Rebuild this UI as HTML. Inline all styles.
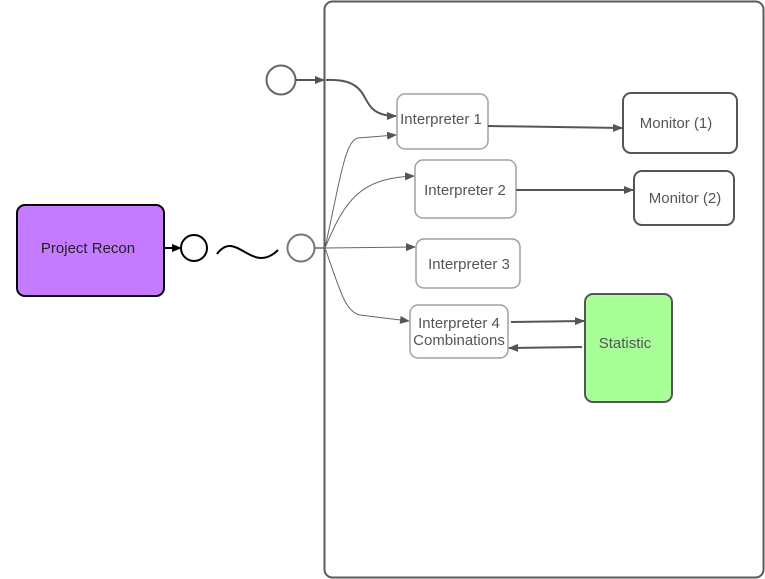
<!DOCTYPE html>
<html><head><meta charset="utf-8"><style>
html,body{margin:0;padding:0;background:#fff;width:765px;height:579px;overflow:hidden}
text{font-family:"Liberation Sans",Arial,sans-serif;font-size:15px;fill:#555}
</style></head><body>
<svg width="765" height="579" viewBox="0 0 765 579" xmlns="http://www.w3.org/2000/svg">
<defs>
<marker id="a" markerWidth="10" markerHeight="8" refX="9" refY="4" orient="auto" markerUnits="userSpaceOnUse"><path d="M0,0 L10,4 L0,8 z" fill="#555"/></marker>
<marker id="b" markerWidth="10" markerHeight="8" refX="9" refY="4" orient="auto" markerUnits="userSpaceOnUse"><path d="M0,0 L10,4 L0,8 z" fill="#000"/></marker>
</defs>
<rect x="324.5" y="1.5" width="439" height="576" rx="8" fill="#fff" stroke="#5a5a5a" stroke-width="2"/>
<circle cx="281" cy="80" r="14.5" fill="#fff" stroke="#666" stroke-width="2"/>
<path d="M296,80 L324,80" stroke="#555" stroke-width="2" fill="none" marker-end="url(#a)"/>
<path d="M326,80 C380,78 352,116 396,116" stroke="#555" stroke-width="2" fill="none" marker-end="url(#a)"/>
<rect x="17" y="205" width="147" height="91" rx="8" fill="#c57bff" stroke="#000" stroke-width="2"/>
<text x="88" y="253" text-anchor="middle" style="fill:#222">Project Recon</text>
<path d="M164,248 L181,248" stroke="#000" stroke-width="2" marker-end="url(#b)"/>
<circle cx="194" cy="248" r="13" fill="#fff" stroke="#000" stroke-width="2"/>
<path d="M217,254 C236,228 252,276 278,250" stroke="#000" stroke-width="2" fill="none"/>
<circle cx="301" cy="248" r="13.5" fill="#fff" stroke="#777" stroke-width="2"/>
<path d="M315,248 L325,248" stroke="#666" stroke-width="1.5"/>
<g stroke="#666" stroke-width="1" fill="none">
<path d="M325,248 C340,180 345,140 358,138 L396,135" marker-end="url(#a)"/>
<path d="M325,248 C345,200 360,178 414,176" marker-end="url(#a)"/>
<path d="M325,248 L415,247" marker-end="url(#a)"/>
<path d="M325,248 C340,290 345,312 360,315 L409,321" marker-end="url(#a)"/>
</g>
<g fill="#fff" stroke="#a0a0a0" stroke-width="1.5">
<rect x="397" y="94" width="91" height="55" rx="8"/>
<rect x="415" y="160" width="101" height="58" rx="8"/>
<rect x="416" y="239" width="104" height="49" rx="8"/>
<rect x="410" y="305" width="98" height="53" rx="8"/>
</g>
<text x="441" y="124" text-anchor="middle">Interpreter 1</text>
<text x="465" y="195" text-anchor="middle">Interpreter 2</text>
<text x="469" y="269" text-anchor="middle">Interpreter 3</text>
<text x="459" y="328" text-anchor="middle">Interpreter 4</text>
<text x="459" y="345" text-anchor="middle">Combinations</text>
<g fill="#fff" stroke="#555" stroke-width="2">
<rect x="623" y="93" width="114" height="60" rx="8"/>
<rect x="634" y="171" width="100" height="54" rx="8"/>
</g>
<text x="676" y="128" text-anchor="middle">Monitor (1)</text>
<text x="685" y="203" text-anchor="middle">Monitor (2)</text>
<path d="M488,126 L622,128" stroke="#555" stroke-width="2" marker-end="url(#a)"/>
<path d="M516,190 L633,190" stroke="#555" stroke-width="2" marker-end="url(#a)"/>
<rect x="585" y="294" width="87" height="108" rx="8" fill="#a8ff98" stroke="#555" stroke-width="2"/>
<text x="625" y="348" text-anchor="middle">Statistic</text>
<path d="M511,322 L584,321" stroke="#555" stroke-width="2" marker-end="url(#a)"/>
<path d="M582,347 L509,348" stroke="#555" stroke-width="2" marker-end="url(#a)"/>
</svg>
</body></html>
